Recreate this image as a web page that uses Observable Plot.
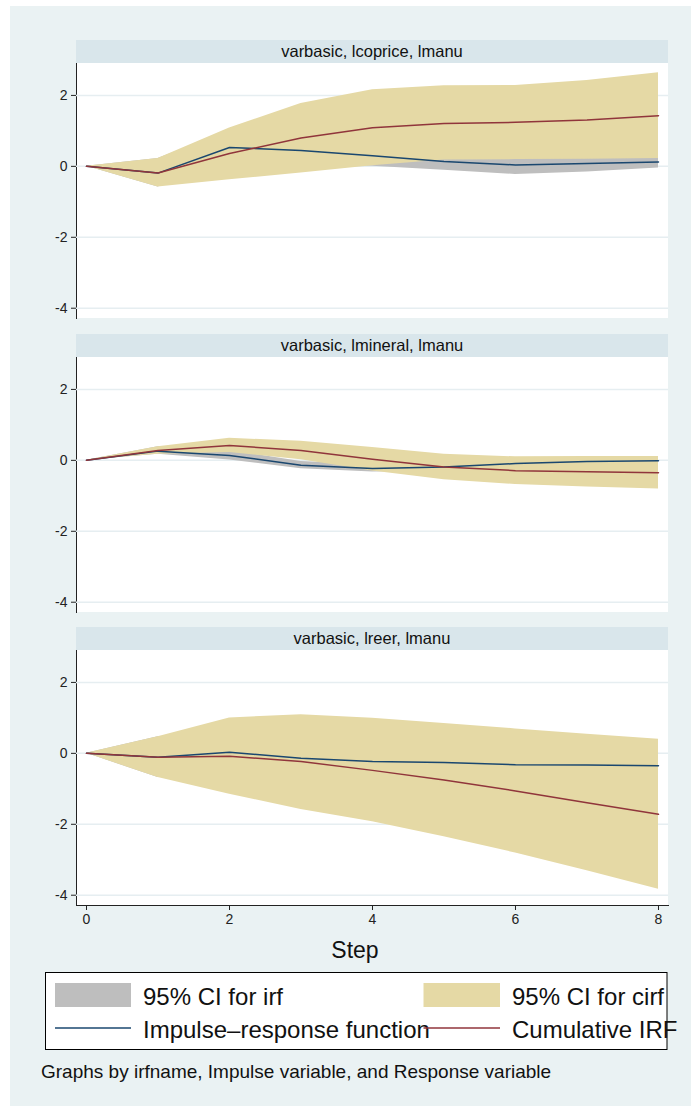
<!DOCTYPE html>
<html>
<head>
<meta charset="utf-8">
<script src="https://cdn.jsdelivr.net/npm/d3@7"></script>
<script src="https://cdn.jsdelivr.net/npm/@observablehq/plot@0.6"></script>
<style>
  body { margin: 0; background: #ffffff; font-family: "Liberation Sans", Arial, sans-serif; }
  #page { position: relative; width: 691px; height: 1106px; overflow: hidden; }
  #bg { position: absolute; left: 10px; top: 6px; width: 681px; height: 1100px; background: #eaf2f3; }
  .plotbg { position: absolute; left: 76px; width: 592px; height: 255px; background: #ffffff; }
  .panel { position: absolute; left: 0; }
  #overlay { position: absolute; left: 0; top: 0; }
</style>
</head>
<body>
<div id="page">
  <div id="bg"></div>
  <svg id="overlay" width="691" height="1106"></svg>
</div>
<script>
// ---- data ----
const steps = [0, 1, 2, 3, 4, 5, 6, 7, 8];
const xTicks = [0, 2, 4, 6, 8];
const yTicks = [-4, -2, 0, 2];
const panelTitles = ["varbasic, lcoprice, lmanu", "varbasic, lmineral, lmanu", "varbasic, lreer, lmanu"];

// panel 1: lcoprice -> lmanu
const irf1    = [0, -0.19, 0.53, 0.45, 0.30, 0.14, 0.04, 0.08, 0.12];
const irfLo1  = [0, -0.58, 0.05, 0.05, 0.00, -0.11, -0.23, -0.16, -0.05];
const irfHi1  = [0, 0.22, 1.00, 0.85, 0.60, 0.39, 0.31, 0.32, 0.29];
const cirf1   = [0, -0.19, 0.36, 0.80, 1.09, 1.21, 1.24, 1.31, 1.43];
const cirfLo1 = [0, -0.58, -0.38, -0.19, 0.02, 0.18, 0.19, 0.20, 0.22];
const cirfHi1 = [0, 0.22, 1.08, 1.77, 2.16, 2.27, 2.28, 2.42, 2.64];

// panel 2: lmineral -> lmanu
const irf2    = [0, 0.26, 0.14, -0.14, -0.23, -0.19, -0.09, -0.03, -0.01];
const irfLo2  = [0, 0.17, 0.01, -0.24, -0.33, -0.30, -0.20, -0.13, -0.10];
const irfHi2  = [0, 0.38, 0.28, -0.03, -0.12, -0.08, 0.02, 0.07, 0.08];
const cirf2   = [0, 0.28, 0.42, 0.28, 0.03, -0.19, -0.29, -0.32, -0.35];
const cirfLo2 = [0, 0.17, 0.22, 0.02, -0.30, -0.55, -0.68, -0.75, -0.81];
const cirfHi2 = [0, 0.38, 0.62, 0.54, 0.36, 0.17, 0.10, 0.11, 0.11];

// panel 3: lreer -> lmanu
const irf3    = [0, -0.11, 0.03, -0.14, -0.23, -0.26, -0.32, -0.33, -0.35];
const irfLo3  = [0, -0.68, -0.45, -0.55, -0.55, -0.55, -0.60, -0.60, -0.62];
const irfHi3  = [0, 0.47, 0.50, 0.27, 0.10, 0.03, -0.04, -0.06, -0.08];
const cirf3   = [0, -0.11, -0.08, -0.23, -0.48, -0.75, -1.06, -1.39, -1.72];
const cirfLo3 = [0, -0.68, -1.15, -1.58, -1.93, -2.35, -2.81, -3.31, -3.83];
const cirfHi3 = [0, 0.47, 1.00, 1.09, 0.99, 0.84, 0.69, 0.54, 0.40];

const legendLabels = ["95% CI for irf", "95% CI for cirf", "Impulse\u2013response function", "Cumulative IRF"];
const xTitle = "Step";
const note = "Graphs by irfname, Impulse variable, and Response variable";

// ---- styling / layout ----
const colIrfCI = "#bebebe", colCirfCI = "#e5d9a5", colIrf = "#1a476f", colCirf = "#90353b";
const xDomain = [-0.14, 8.14];
const yDomain = [-4.29, 2.9];
const stripTops = [40, 334, 627];
const stripH = 23, plotH = 255;
const FONT = "Liberation Sans, Arial, sans-serif";

const series = [
  [irf1, irfLo1, irfHi1, cirf1, cirfLo1, cirfHi1],
  [irf2, irfLo2, irfHi2, cirf2, cirfLo2, cirfHi2],
  [irf3, irfLo3, irfHi3, cirf3, cirfLo3, cirfHi3]
];

const page = document.getElementById("page");
const overlay = d3.select("#overlay");

series.forEach((s, i) => {
  const rows = steps.map((step, j) => ({
    step, irf: s[0][j], irfLo: s[1][j], irfHi: s[2][j], cirf: s[3][j], cirfLo: s[4][j], cirfHi: s[5][j]
  }));
  const last = i === series.length - 1;
  const top = stripTops[i] + stripH;

  const bg = document.createElement("div");
  bg.className = "plotbg";
  bg.style.top = top + "px";
  page.appendChild(bg);

  const mb = last ? 30 : 0;
  const chart = Plot.plot({
    width: 691,
    height: plotH + mb,
    marginLeft: 76, marginRight: 23, marginTop: 0, marginBottom: mb,
    style: { background: "transparent", fontFamily: FONT, fontSize: "14px", color: "#222", overflow: "visible" },
    x: { domain: xDomain, axis: last ? "bottom" : null, ticks: xTicks, tickSize: 5, tickPadding: 4,
         tickFormat: d => String(d), label: null, line: true },
    y: { domain: yDomain, ticks: yTicks, tickSize: 5, tickPadding: 4,
         tickFormat: d => String(d), label: null, line: true },
    marks: [
      Plot.gridY(yTicks, { stroke: "#e6eef1", strokeOpacity: 1, strokeWidth: 1.5 }),
      Plot.areaY(rows, { x: "step", y1: "irfLo", y2: "irfHi", fill: colIrfCI }),
      Plot.areaY(rows, { x: "step", y1: "cirfLo", y2: "cirfHi", fill: colCirfCI }),
      Plot.lineY(rows, { x: "step", y: "irf", stroke: colIrf, strokeWidth: 1.5 }),
      Plot.lineY(rows, { x: "step", y: "cirf", stroke: colCirf, strokeWidth: 1.5 })
    ]
  });
  chart.classList.add("panel");
  chart.style.top = top + "px";
  page.appendChild(chart);

  // strip header
  overlay.append("rect").attr("x", 76).attr("y", stripTops[i]).attr("width", 592).attr("height", stripH).attr("fill", "#d9e6eb");
  overlay.append("text").attr("x", 372).attr("y", stripTops[i] + 16.5).attr("text-anchor", "middle")
    .attr("font-family", FONT).attr("font-size", 16.5).attr("fill", "#111").text(panelTitles[i]);
});

// x title
overlay.append("text").attr("x", 355).attr("y", 958).attr("text-anchor", "middle")
  .attr("font-family", FONT).attr("font-size", 23).attr("fill", "#111").text(xTitle);

// legend
const lg = overlay.append("g").attr("font-family", FONT).attr("font-size", 24).attr("fill", "#111");
lg.append("rect").attr("x", 45.5).attr("y", 972.5).attr("width", 621.5).attr("height", 77).attr("fill", "#fff").attr("stroke", "#000").attr("stroke-width", 1);
lg.append("rect").attr("x", 55).attr("y", 983).attr("width", 76).attr("height", 24).attr("fill", colIrfCI);
lg.append("rect").attr("x", 423.5).attr("y", 983).attr("width", 76.5).attr("height", 24).attr("fill", colCirfCI);
lg.append("text").attr("x", 143).attr("y", 1005).text(legendLabels[0]);
lg.append("text").attr("x", 512).attr("y", 1005).text(legendLabels[1]);
lg.append("text").attr("x", 143).attr("y", 1038).text(legendLabels[2]);
lg.append("text").attr("x", 512).attr("y", 1038).text(legendLabels[3]);
lg.append("line").attr("x1", 55).attr("x2", 131).attr("y1", 1028).attr("y2", 1028).attr("stroke", colIrf).attr("stroke-width", 1.5);
lg.append("line").attr("x1", 423.5).attr("x2", 500).attr("y1", 1028).attr("y2", 1028).attr("stroke", colCirf).attr("stroke-width", 1.5);

// note
overlay.append("text").attr("x", 41).attr("y", 1078).attr("font-family", FONT).attr("font-size", 19).attr("fill", "#111").text(note);
</script>
</body>
</html>
